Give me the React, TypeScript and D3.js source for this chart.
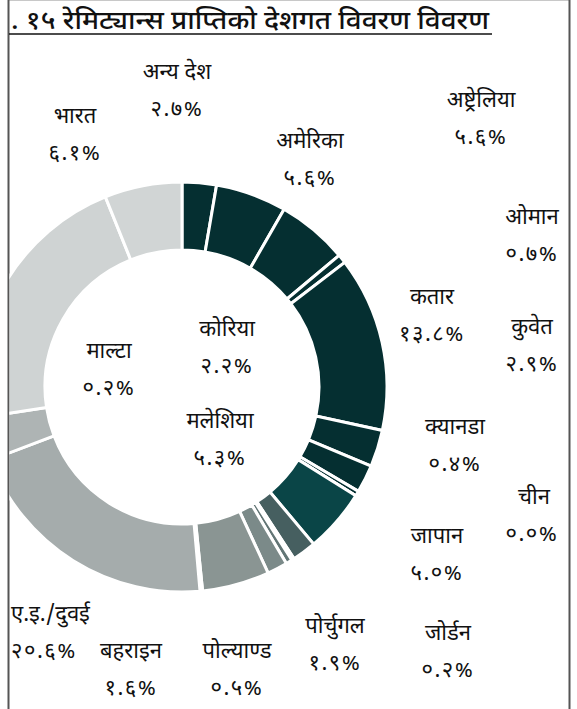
import React from "react";
import * as d3 from "d3";

const countries = [
  "अन्य देश", "अमेरिका", "अष्ट्रेलिया", "ओमान", "कतार", "कुवेत", "कोरिया",
  "क्यानडा", "चीन", "जापान", "पोर्चुगल", "जोर्डन", "पोल्याण्ड", "बहराइन",
  "मलेशिया", "माल्टा", "ए.इ./दुवई", "(अदृश्य १)", "(अदृश्य २)", "भारत",
];
const shares = [
  2.7, 5.6, 5.6, 0.7, 13.8, 2.9, 2.2,
  0.4, 0.0, 5.0, 1.9, 0.2, 0.5, 1.6,
  5.3, 0.2, 20.6, 3.4, 21.3, 6.1,
];
const sliceColors = [
  "#052f31", "#052f31", "#052f31", "#052f31", "#052f31", "#052f31", "#052f31",
  "#052f31", "#052f31", "#0a4547", "#465f60", "#566b6b", "#627575", "#7b8a89",
  "#8a9593", "#98a1a0", "#a5acac", "#aeb4b4", "#cfd3d3", "#d1d5d5",
];
// label layout: [x, y of name, anchor]; null = label outside visible area
const labelLayout: ([number, number, string] | null)[] = [
  [177, 73, "middle"], [310, 142, "middle"], [481, 101, "middle"], [532, 218, "middle"],
  [432, 298, "middle"], [532, 328, "middle"], [227, 330, "middle"], [455, 428, "middle"],
  [534, 498, "end2"], [437, 537, "middle"], [335, 627, "middle"], [448, 634, "middle"],
  [237, 652, "middle"], [131, 652, "middle"], [220, 422, "middle"], [109, 352, "middle"],
  [11, 615, "start"], null, null, [75, 117, "middle"],
];
const title = ". १५ रेमिट्यान्स प्राप्तिको देशगत विवरण विवरण";

const devDigits = "०१२३४५६७८९";
const toDev = (s: string) => s.replace(/[0-9]/g, (d) => devDigits[+d]);

const W = 577, H = 709;
const cx = 182, cy = 387, R = 205, r = 137;
const FONT = "'Noto Sans Devanagari', 'Noto Sans', Lato, sans-serif";

export default function App() {
  const data = countries.map((c, i) => ({ name: c, value: shares[i], i }));
  const pie = d3.pie<any>().value((d) => d.value).sort(null).startAngle(0).endAngle(2 * Math.PI);
  const arcs = pie(data);
  const arc = d3.arc<any>().innerRadius(r).outerRadius(R);

  return (
    <div style={{ position: "absolute", left: 0, top: 0, background: "#fff" }}>
      <svg width={W} height={H} style={{ display: "block" }} fontFamily={FONT}>
        <defs>
          <clipPath id="frame">
            <rect x={9.5} y={0} width={559} height={H} />
          </clipPath>
        </defs>
        <rect width={W} height={H} fill="#fff" />
        <line x1={8} x2={570} y1={0.5} y2={0.5} stroke="#c8c8c8" />
        <line x1={8.5} x2={8.5} y1={0} y2={H} stroke="#555" strokeWidth={2} />
        <line x1={569.5} x2={569.5} y1={0} y2={H} stroke="#555" strokeWidth={2} />
        <text x={11} y={29} fontSize={26} fontWeight={500} fill="#111" textLength={478} lengthAdjust="spacingAndGlyphs">{title}</text>
        <line x1={9} x2={492} y1={34} y2={34} stroke="#111" strokeWidth={1.5} />
        <g clipPath="url(#frame)">
          <g transform={`translate(${cx},${cy})`}>
            {arcs.map((a, k) => (
              <path key={k} d={arc(a) || ""} fill={sliceColors[k]} stroke="#fff" strokeWidth={3} />
            ))}
          </g>
        </g>
        <g fontSize={22} fill="#111">
          {data.map((d, k) => {
            const l = labelLayout[k];
            if (!l) return null;
            const anchor = l[2] === "end2" ? "middle" : l[2];
            const vx = l[2] === "end2" ? l[0] - 2 : l[0];
            return (
              <g key={k}>
                <text x={l[0]} y={l[1]} textAnchor={anchor} dominantBaseline="central">{d.name}</text>
                <text x={vx} y={l[1] + 37} textAnchor={anchor} dominantBaseline="central" letterSpacing={1.5}>
                  {toDev(d.value.toFixed(1)) + "%"}
                </text>
              </g>
            );
          })}
        </g>
      </svg>
    </div>
  );
}
